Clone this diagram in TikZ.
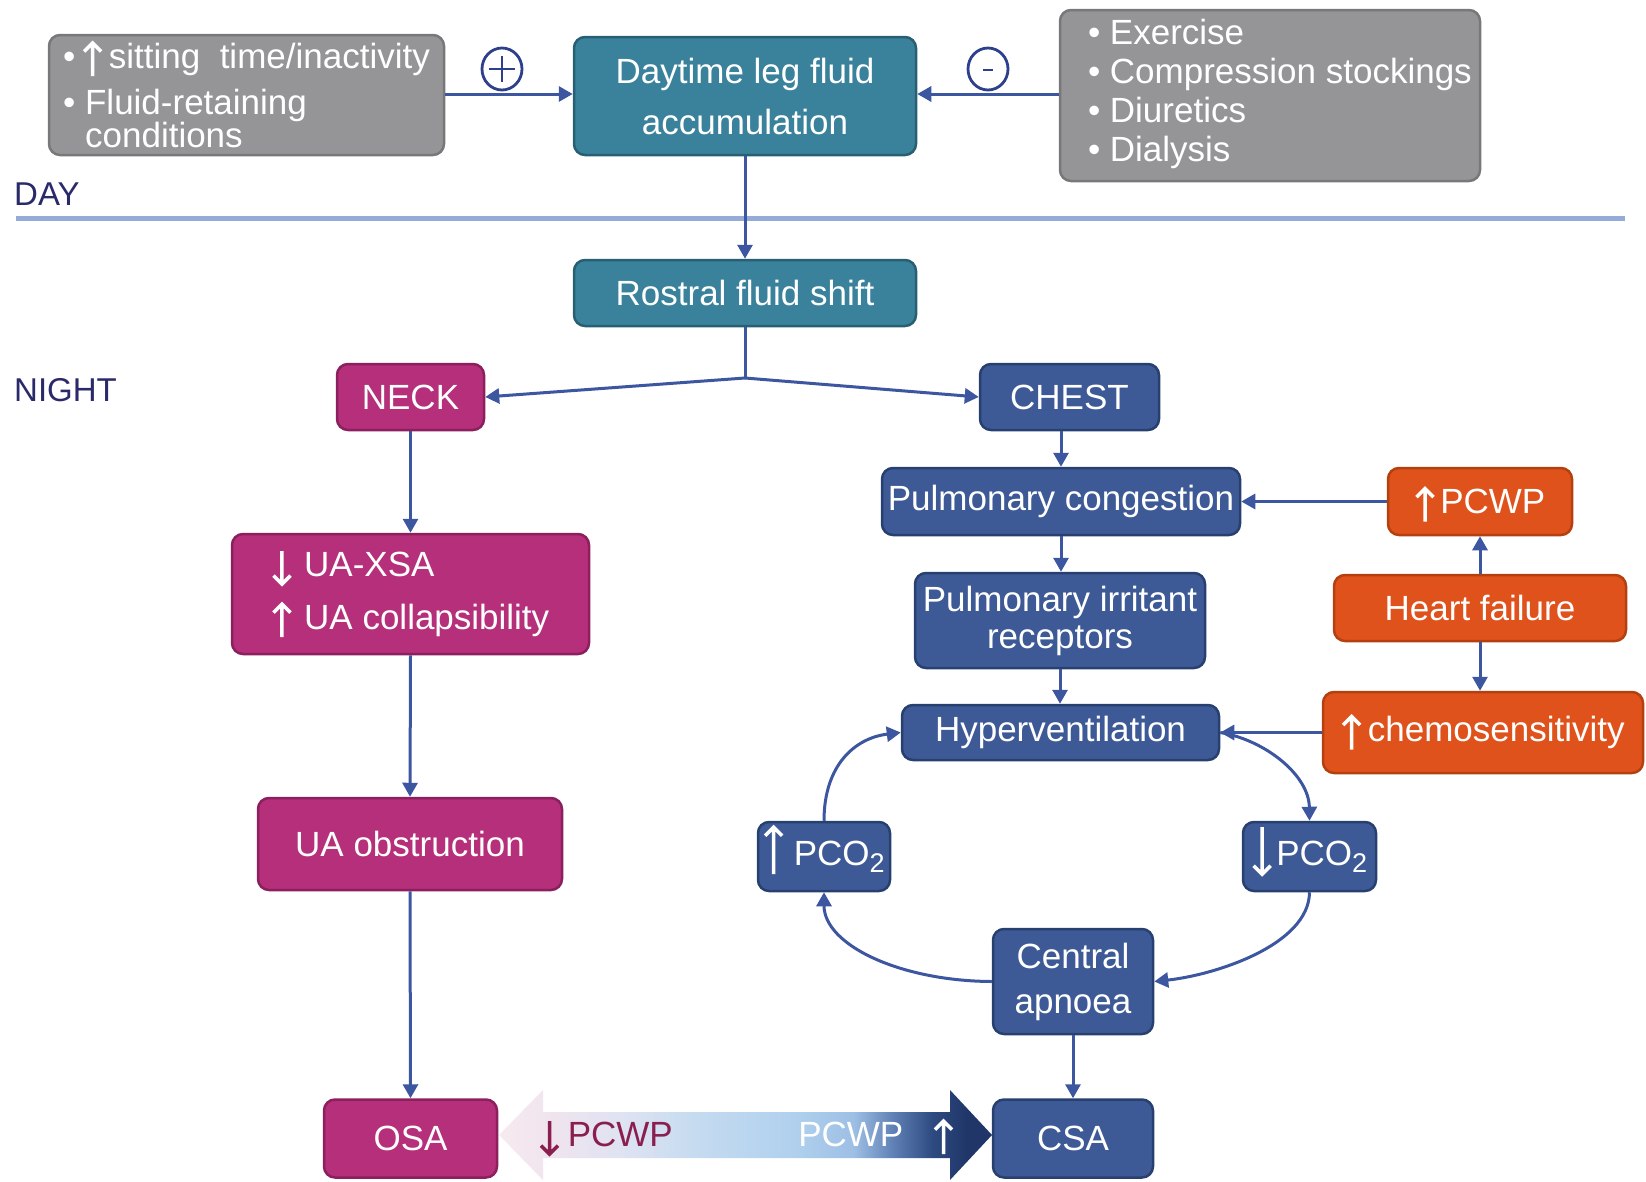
\documentclass[tikz,border=0pt]{standalone}
\usepackage{fontspec}
\setmainfont{Liberation Sans}
\usetikzlibrary{arrows.meta}
\definecolor{grayfill}{HTML}{959598}
\definecolor{grayedge}{HTML}{78787B}
\definecolor{tealfill}{HTML}{3A829B}
\definecolor{tealedge}{HTML}{285F73}
\definecolor{magfill}{HTML}{B52F7A}
\definecolor{magedge}{HTML}{8C1F5D}
\definecolor{navyfill}{HTML}{3E5A96}
\definecolor{navyedge}{HTML}{27406F}
\definecolor{orfill}{HTML}{E0521B}
\definecolor{oredge}{HTML}{B5400F}
\definecolor{arrowblue}{HTML}{3C56A0}
\definecolor{labelnavy}{HTML}{2A2A6A}
\definecolor{dayline}{HTML}{96AAD7}
\definecolor{pcwpred}{HTML}{8A1F4F}
\definecolor{signblue}{HTML}{2E3F8C}
\definecolor{shA}{HTML}{F7EAF0}
\definecolor{shB}{HTML}{F0E4EE}
\definecolor{shC}{HTML}{DFE3F2}
\definecolor{shD}{HTML}{C5DBF0}
\definecolor{shE}{HTML}{B0D0EE}
\definecolor{shF}{HTML}{9DBFE4}
\definecolor{shG}{HTML}{5F80B5}
\definecolor{shH}{HTML}{2D4A80}
\definecolor{shI}{HTML}{203668}
\pgfdeclarehorizontalshading{pcwpshade}{100bp}{color(0bp)=(shA); color(25bp)=(shA); color(30bp)=(shB); color(37.5bp)=(shC); color(45bp)=(shD); color(55bp)=(shE); color(61bp)=(shF); color(65bp)=(shG); color(69bp)=(shH); color(72.5bp)=(shI); color(100bp)=(shI)}
% tall thin arrows drawn inline: colour, bottom, top (pt, relative to baseline)
\newcommand{\arrup}[3]{\smash{\tikz[baseline=0pt,x=1pt,y=1pt]{\draw[draw=#1,fill=none,solid,sharp corners,line width=3.5pt,line cap=butt,line join=miter] (0,#2) -- (0,#3) (-8.5,#3-8.5) -- (0,#3) -- (8.5,#3-8.5);}}}
\newcommand{\arrdn}[3]{\smash{\tikz[baseline=0pt,x=1pt,y=1pt]{\draw[draw=#1,fill=none,solid,sharp corners,line width=3.5pt,line cap=butt,line join=miter] (0,#2) -- (0,#3) (-8.5,#3+8.5) -- (0,#3) -- (8.5,#3+8.5);}}}
\newcommand{\subtwo}{\raisebox{-7pt}{\fontsize{27}{27}\selectfont 2}}
\begin{document}
\begin{tikzpicture}[x=1pt,y=-1pt,
  boxbase/.style={rounded corners=11pt, line width=2.5pt, text=white, inner sep=0pt, font=\fontsize{35}{39}\selectfont},
  graybox/.style={boxbase, fill=grayfill, draw=grayedge},
  tealbox/.style={boxbase, fill=tealfill, draw=tealedge, align=center},
  magbox/.style={boxbase, fill=magfill, draw=magedge, align=center},
  navybox/.style={boxbase, fill=navyfill, draw=navyedge, align=center},
  orbox/.style={boxbase, fill=orfill, draw=oredge, align=center},
  conn/.style={draw=arrowblue, line width=3pt, -{Triangle[length=14pt,width=15pt]}},
  plainline/.style={draw=arrowblue, line width=3pt},
  lbl/.style={text=labelnavy, font=\fontsize{33}{39}\selectfont, inner sep=0pt, anchor=west},
  signc/.style={draw=signblue, line width=2.8pt},
  arrtext/.style={inner sep=0pt, font=\fontsize{35}{39}\selectfont}
]
\useasboundingbox (0,0) rectangle (1646,1181);

% day/night
\node[lbl] (daylbl) at (14,194) {DAY};
\node[lbl] (nightlbl) at (14,390) {NIGHT};
\draw[dayline, line width=5pt] (16,218) coordinate (dl1) -- (1625,218) coordinate (dl2);

% top row
\node[graybox, minimum width=395pt, minimum height=120pt, align=left, font=\fontsize{35}{33}\selectfont] (gl) at (246.5,95)
  {•\hspace{7pt}\arrup{white}{-8}{25}\hspace{6pt}sitting\ \ time/inactivity\\[13pt]•\ Fluid-retaining\\\hphantom{•\ }conditions};
\node[tealbox, minimum width=342pt, minimum height=118pt] (day) at (745,96) {Daytime leg fluid\\[12pt]accumulation};
\node[graybox, minimum width=420pt, minimum height=171pt] (gr) at (1270,95.5)
  {\makebox[364pt][l]{\begin{tabular}{@{}l@{}}•\ Exercise\\•\ Compression stockings\\•\ Diuretics\\•\ Dialysis\end{tabular}}};

\draw[conn] (gl.east |- 0,94) -- (day.west |- 0,94);
\draw[conn] (gr.west |- 0,94) -- (day.east |- 0,94);

% plus / minus signs
\draw[signc] (502,69) ellipse [x radius=20, y radius=21];
\draw[signc] (489,69) -- (515,69) (502,56) -- (502,82);
\draw[signc] (988,69) ellipse [x radius=20, y radius=21];
\draw[signc] (983,70) -- (993,70);

% rostral
\node[tealbox, minimum width=342pt, minimum height=66pt] (rostral) at (745,293) {Rostral fluid shift};
\draw[conn] (day.south) -- (rostral.north);

% neck / chest
\node[magbox, minimum width=147pt, minimum height=66pt] (neck) at (410.5,397) {NECK};
\node[navybox, minimum width=179pt, minimum height=66pt] (chest) at (1069.5,397) {CHEST};
\draw[plainline] (rostral.south) -- (745,378) coordinate (br);
\draw[conn] (br) -- (neck.east);
\draw[conn] (br) -- (chest.west);

% left column
\node[magbox, minimum width=357pt, minimum height=120pt, align=left] (ua) at (410.5,594)
  {\arrdn{white}{25}{-8}\hspace{12pt}UA-XSA\\[14pt]\arrup{white}{-8}{25}\hspace{12pt}UA collapsibility};
\node[magbox, minimum width=304pt, minimum height=92pt] (uaobs) at (410,844) {UA obstruction};
\node[magbox, minimum width=173pt, minimum height=78pt] (osa) at (410.5,1138.5) {OSA};
\draw[conn] (neck.south) -- (ua.north);
\draw[conn] (ua.south) -- (uaobs.north);
\draw[conn] (uaobs.south) -- (osa.north);

% right column
\node[navybox, minimum width=358pt, minimum height=67pt] (pcong) at (1061,501.5) {Pulmonary congestion};
\node[navybox, minimum width=290pt, minimum height=95pt] (pirr) at (1060,620.5) {Pulmonary irritant\\[-2pt]receptors};
\node[navybox, minimum width=317pt, minimum height=55pt] (hyper) at (1060.5,732.5) {Hyperventilation};
\node[orbox, minimum width=184pt, minimum height=67pt] (pcwp) at (1480,501.5) {\arrup{white}{-8}{25}\hspace{5pt}PCWP};
\node[orbox, minimum width=292pt, minimum height=66pt] (hf) at (1480,608) {Heart failure};
\node[orbox, minimum width=320pt, minimum height=81pt] (chemo) at (1483,732.5) {\arrup{white}{-8}{25}\hspace{6pt}chemosensitivity};
\node[navybox, minimum width=132pt, minimum height=69pt] (pcoup) at (824,856.5) {\arrup{white}{-9}{38}\hspace{10pt}PCO\subtwo};
\node[navybox, minimum width=133pt, minimum height=69pt] (pcodn) at (1309.5,856.5) {\arrdn{white}{38}{-9}\hspace{4pt}PCO\subtwo};
\node[navybox, minimum width=160pt, minimum height=105pt] (capn) at (1073,981.5) {Central\\[6pt]apnoea};
\node[navybox, minimum width=160pt, minimum height=78pt] (csa) at (1073,1138.5) {CSA};

\draw[conn] (chest.south -| pcong.north) -- (pcong.north);
\draw[conn] (pcong.south) -- (pcong.south |- pirr.north);
\draw[conn] (pirr.south) -- (pirr.south |- hyper.north);
\draw[conn] (pcwp.west) -- (pcong.east);
\draw[conn] (hf.north) -- (pcwp.south);
\draw[conn] (hf.south) -- (hf.south |- chemo.north);
\draw[conn] (chemo.west) -- (hyper.east);
\draw[conn] (capn.south) -- (csa.north);

% loop
\draw[conn] (pcoup.north) .. controls (824,765) and (855,738) .. (hyper.west);
\draw[conn] (hyper.east) .. controls (1265,740) and (1309,775) .. (pcodn.north);
\draw[conn] (pcodn.south) .. controls (1309,945) and (1215,975) .. (capn.east);
\draw[conn] (capn.west) .. controls (900,981) and (824,945) .. (pcoup.south);

% bottom double arrow
\shade[shading=pcwpshade] (499,1135) -- (543,1090) -- (543,1112) -- (950,1112) -- (950,1090) -- (992,1135)
  -- (950,1180) -- (950,1158) -- (543,1158) -- (543,1180) -- cycle;
\node[arrtext, text=pcwpred] (pdn) at (606,1134) {\arrdn{pcwpred}{25}{-8}\hspace{8pt}PCWP};
\node[arrtext, text=white] (pup) at (876,1134) {PCWP\hspace{30pt}\arrup{white}{-8}{25}};
\end{tikzpicture}
\end{document}
